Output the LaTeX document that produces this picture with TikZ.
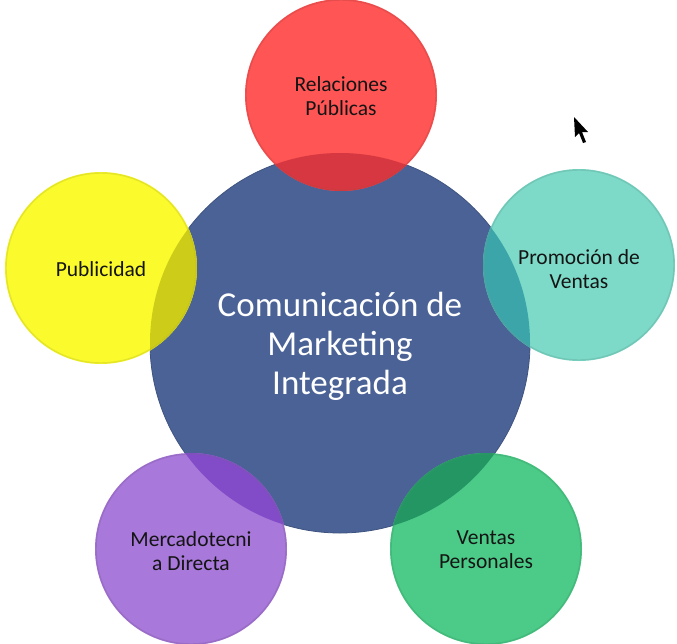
\documentclass[tikz,border=0pt]{standalone}
\usepackage{fontspec}
\setmainfont{Carlito}
\definecolor{cblue}{RGB}{74,98,150}
\definecolor{cred}{RGB}{255,85,85}
\definecolor{cyel}{RGB}{250,250,45}
\definecolor{cteal}{RGB}{125,218,200}
\definecolor{cpurp}{RGB}{168,120,218}
\definecolor{cgreen}{RGB}{75,203,135}
\definecolor{ored}{RGB}{215,55,65}
\definecolor{oyel}{RGB}{205,205,25}
\definecolor{oteal}{RGB}{60,165,170}
\definecolor{opurp}{RGB}{130,75,200}
\definecolor{ogreen}{RGB}{35,150,100}
\definecolor{ctext}{RGB}{20,20,20}
\tikzset{
  hub/.style={circle, minimum size=380pt, inner sep=0pt, fill=cblue, draw=cblue!85!black, line width=0.8pt},
  sat/.style={circle, minimum size=192pt, inner sep=0pt, fill=#1},
  rim/.style={draw=#1!75!black, draw opacity=0.35, line width=1.4pt},
  small/.style={align=center, text=ctext, font=\fontsize{21.5}{24}\selectfont},
  big/.style={align=center, text=white, font=\fontsize{35}{39}\selectfont}
}
\begin{document}
\begin{tikzpicture}[x=1pt,y=-1pt]
\useasboundingbox[fill=white] (0,0) rectangle (677,643);
\node[hub] (hub) at (340,343) {};
\node[sat=cred] (rp) at (341,95) {};
\node[sat=cyel] (pu) at (101,268) {};
\node[sat=cteal] (pv) at (579,265) {};
\node[sat=cpurp] (md) at (191,549) {};
\node[sat=cgreen] (vp) at (486,549) {};
\begin{scope}
  \clip (hub.center) circle (190pt);
  \fill[ored] (rp.center) circle (96pt);
  \fill[oyel] (pu.center) circle (96pt);
  \fill[oteal] (pv.center) circle (96pt);
  \fill[opurp] (md.center) circle (96pt);
  \fill[ogreen] (vp.center) circle (96pt);
\end{scope}
\draw[rim=cred] (rp.center) circle (95pt);
\draw[rim=cyel] (pu.center) circle (95pt);
\draw[rim=cteal] (pv.center) circle (95pt);
\draw[rim=cpurp] (md.center) circle (95pt);
\draw[rim=cgreen] (vp.center) circle (95pt);
\node[big] (hubt) at (340,346) {Comunicación de\\Marketing\\Integrada};
\node[small] (rpt) at (341,96) {Relaciones\\Públicas};
\node[small] (put) at (101,269) {Publicidad};
\node[small] (pvt) at (579,269) {Promoción de\\Ventas};
\node[small] (mdt) at (191,551) {Mercadotecni\\a Directa};
\node[small] (vpt) at (486,550) {Ventas\\Personales};
\fill[black] (574,117) -- (575,137) -- (579,133) -- (583,143) -- (586,142) -- (582,132) -- (588,132) -- cycle;
\end{tikzpicture}
\end{document}
